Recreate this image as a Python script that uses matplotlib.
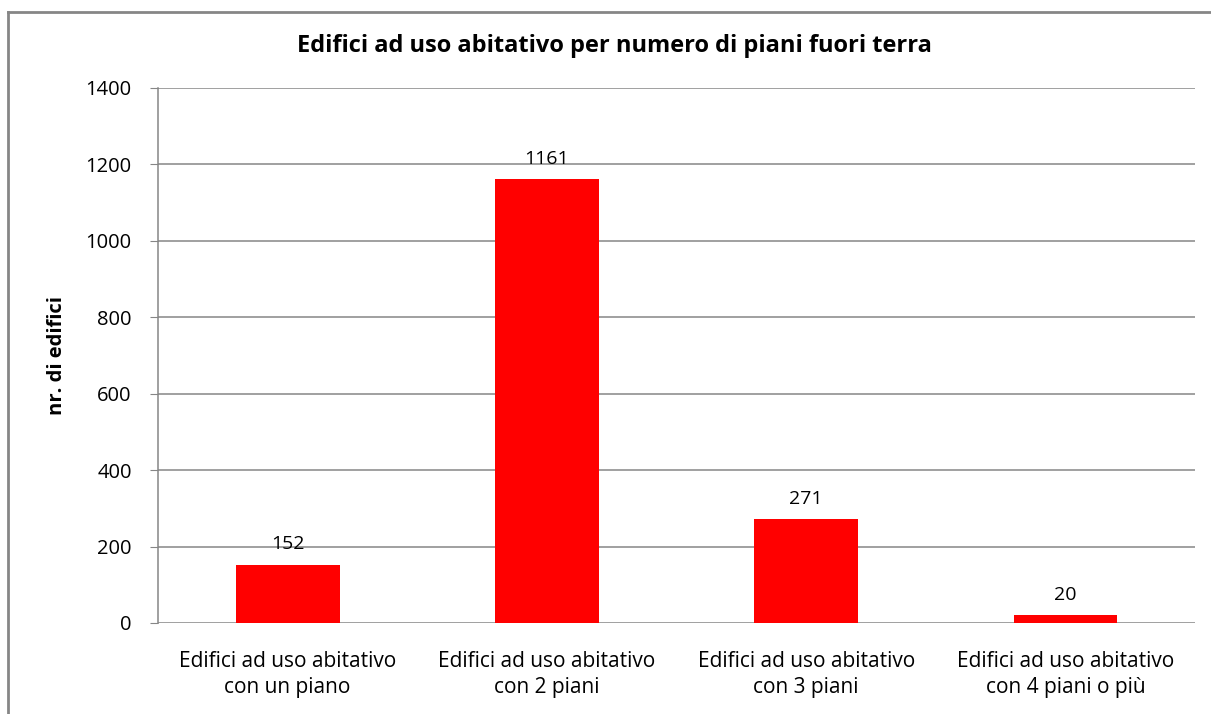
import matplotlib.pyplot as plt
from matplotlib.lines import Line2D
import numpy as np

plt.rcParams['font.family'] = ['Open Sans', 'DejaVu Sans']

categories = ["Edifici ad uso abitativo\ncon un piano",
              "Edifici ad uso abitativo\ncon 2 piani",
              "Edifici ad uso abitativo\ncon 3 piani",
              "Edifici ad uso abitativo\ncon 4 piani o più"]
values = [152, 1161, 271, 20]
yticks = [0, 200, 400, 600, 800, 1000, 1200, 1400]

grid_col = "#868686"

fig = plt.figure(figsize=(12.11, 7.14), dpi=100)
ax = fig.add_axes([0.1305, 0.1275, 0.8563, 0.7493])

x = np.arange(len(categories))
bars = ax.bar(x, values, width=0.4, color="#ff0000", zorder=3)
for b, v in zip(bars, values):
    ax.text(b.get_x() + b.get_width() / 2, v + 30, str(v),
            ha="center", va="bottom", fontsize=14, color="#000000")

ax.set_xlim(-0.5, 3.5)
ax.set_ylim(0, 1400)
ax.set_yticks(yticks)
ax.set_yticklabels([str(t) for t in yticks], fontsize=14.5)
ax.set_xticks(x)
ax.set_xticklabels(categories, fontsize=15, linespacing=1.3)
ax.tick_params(axis="x", length=0, pad=20)
ax.tick_params(axis="y", length=6, color=grid_col, pad=13)
ax.yaxis.grid(True, color=grid_col, linewidth=1.1, zorder=0)
for s in ["top", "right", "bottom"]:
    ax.spines[s].set_visible(False)
ax.spines["left"].set_color(grid_col)
ax.spines["left"].set_linewidth(1.1)
ax.set_ylabel("nr. di edifici", fontsize=14.5, fontweight="bold", labelpad=13)

fig.text(0.507, 0.935, "Edifici ad uso abitativo per numero di piani fuori terra",
         ha="center", va="center", fontsize=17, fontweight="bold")

# outer chart border
fig.add_artist(Line2D([8 / 1211, 1], [1 - 12 / 714, 1 - 12 / 714],
                      color=grid_col, linewidth=2, transform=fig.transFigure))
fig.add_artist(Line2D([8 / 1211, 8 / 1211], [0, 1 - 12 / 714],
                      color=grid_col, linewidth=2, transform=fig.transFigure))

fig.savefig("out.png", dpi=100)
